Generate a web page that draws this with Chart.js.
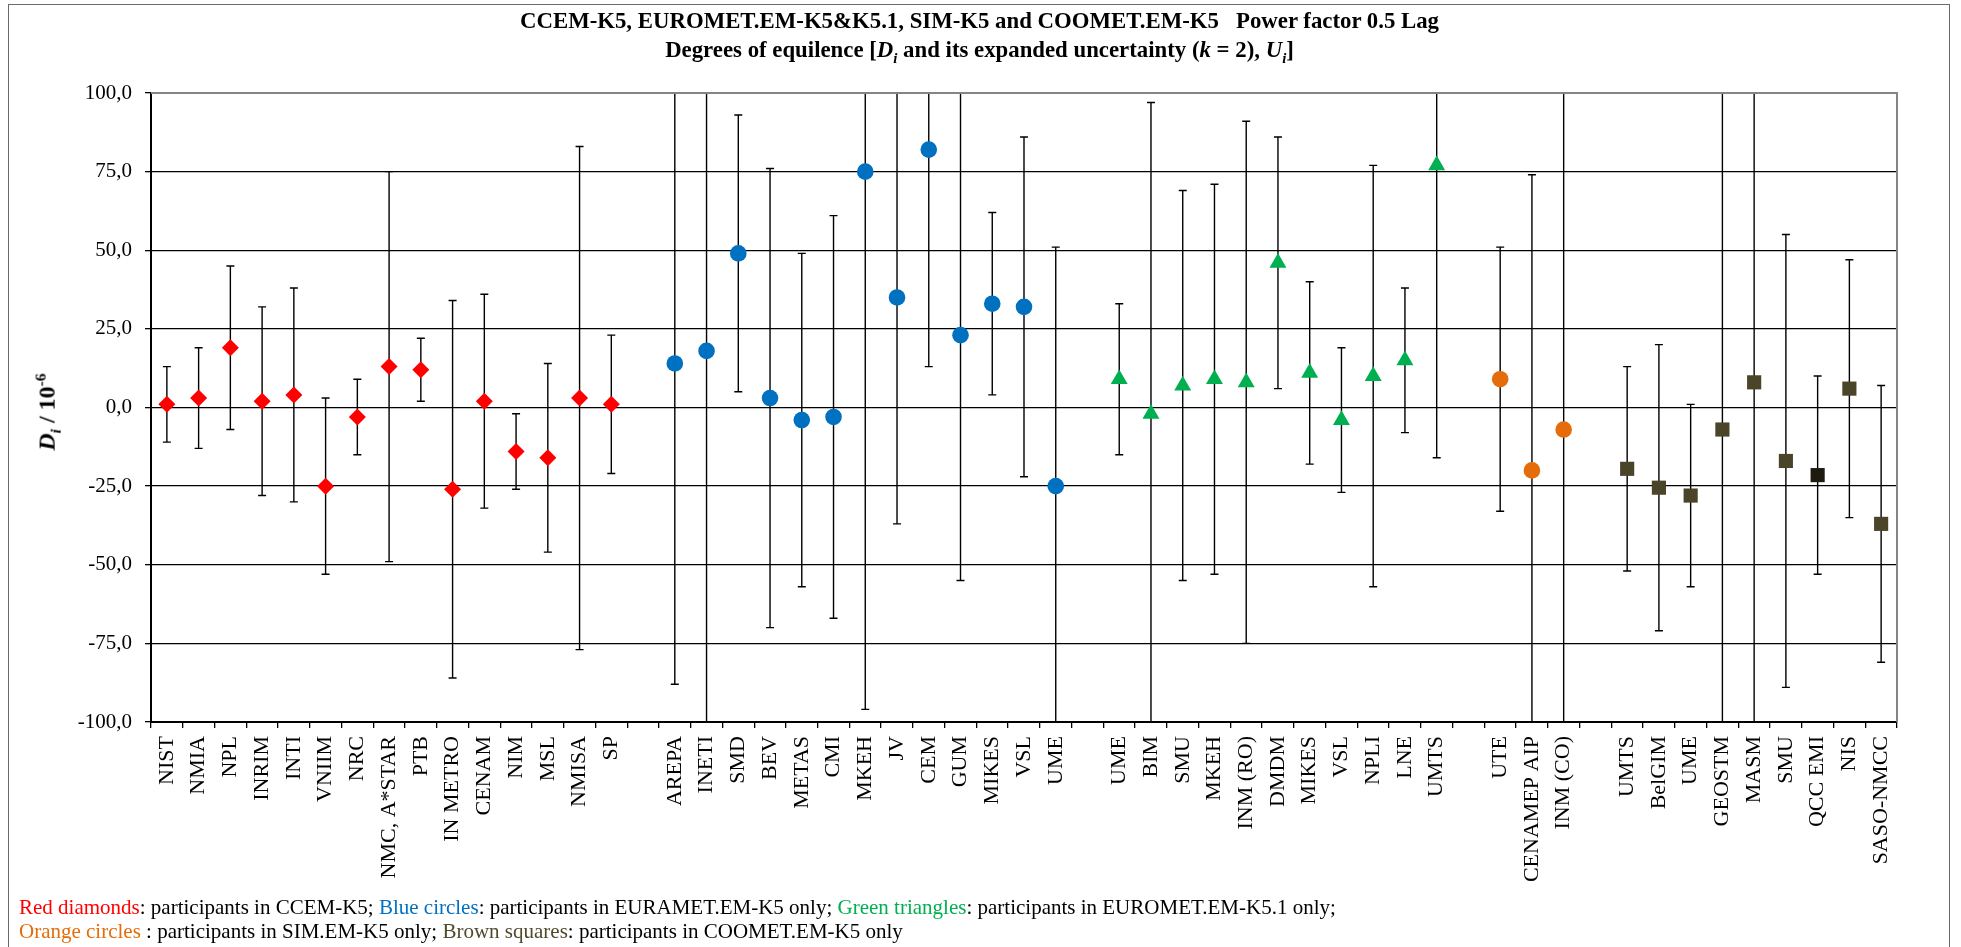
<!DOCTYPE html>
<html>
<head>
<meta charset="utf-8">
<script src="https://cdn.jsdelivr.net/npm/chart.js@4.4.1/dist/chart.umd.min.js"></script>
<style>
  html, body { margin: 0; padding: 0; background: #fff; overflow: hidden; }
  #page { position: relative; width: 1961px; height: 947px; font-family: 'Liberation Serif', 'Times New Roman', serif; }
  #frame { position: absolute; left: 8px; top: 4px; width: 1942px; height: 1000px; border: 1px solid #6a6a6a; box-sizing: border-box; }
  #chart { position: absolute; left: 0; top: 0; }
  #title { position: absolute; left: 8px; width: 1943px; top: 6px; text-align: center; font-weight: bold; font-size: 22.8px; line-height: 29px; color: #000; }
  #ytitle { position: absolute; left: 48px; top: 412px; transform: translate(-50%, -50%) rotate(-90deg); font-weight: bold; font-size: 24px; white-space: nowrap; }
  #note { position: absolute; left: 19px; top: 895px; font-size: 21px; line-height: 24px; white-space: nowrap; }
  sub, sup { font-size: 65%; }
</style>
</head>
<body>
<div id="page">
  <div id="frame"></div>
  <canvas id="chart" width="1961" height="947"></canvas>
  <div id="title">
    CCEM-K5, EUROMET.EM-K5&amp;K5.1, SIM-K5 and COOMET.EM-K5&nbsp;&nbsp; Power factor 0.5 Lag<br>
    Degrees of equilence [<i>D<sub>i</sub></i> and its expanded uncertainty (<i>k</i> = 2), <i>U<sub>i</sub></i>]
  </div>
  <div id="ytitle"><i>D<sub>i</sub></i> / 10<sup>-6</sup></div>
  <div id="note">
    <span style="color:#ff0000">Red diamonds</span>: participants in CCEM-K5; <span style="color:#0070c0">Blue circles</span>: participants in EURAMET.EM-K5 only; <span style="color:#00b050">Green triangles</span>: participants in EUROMET.EM-K5.1 only;<br>
    <span style="color:#e46c0a">Orange circles </span>: participants in SIM.EM-K5 only; <span style="color:#4f4a2c">Brown squares</span>: participants in COOMET.EM-K5 only
  </div>
</div>
<script>
// values (D_i and U_i, in 10^-6)
const ccemNames = ['NIST', 'NMIA', 'NPL', 'INRIM', 'INTI', 'VNIIM', 'NRC', 'NMC, A*STAR', 'PTB', 'IN METRO', 'CENAM', 'NIM', 'MSL', 'NMISA', 'SP'];
const ccemD = [1, 3, 19, 2, 4, -25, -3, 13, 12, -26, 2, -14, -16, 3, 1];
const ccemU = [12, 16, 26, 30, 34, 28, 12, 62, 10, 60, 34, 12, 30, 80, 22];

const euramNames = ['AREPA', 'INETI', 'SMD', 'BEV', 'METAS', 'CMI', 'MKEH', 'JV', 'CEM', 'GUM', 'MIKES', 'VSL', 'UME'];
const euramD = [14, 18, 49, 3, -4, -3, 75, 35, 82, 23, 33, 32, -25];
const euramU = [102, 125, 44, 73, 53, 64, 171, 72, 69, 78, 29, 54, 76];

const k51Names = ['UME', 'BIM', 'SMU', 'MKEH', 'INM (RO)', 'DMDM', 'MIKES', 'VSL', 'NPLI', 'LNE', 'UMTS'];
const k51D = [9, -2, 7, 9, 8, 46, 11, -4, 10, 15, 77];
const k51U = [24, 99, 62, 62, 83, 40, 29, 23, 67, 23, 93];

const simNames = ['UTE', 'CENAMEP AIP', 'INM (CO)'];
const simD = [9, -20, -7];
const simU = [42, 94, 115];

const coometNames = ['UMTS', 'BelGIM', 'UME', 'GEOSTM', 'MASM', 'SMU', 'QCC EMI', 'NIS', 'SASO-NMCC'];
const coometD = [-19.5, -25.5, -28, -7, 8, -17, -21.5, 6, -37];
const coometU = [32.5, 45.5, 29, 110, 115, 72, 31.5, 41, 44];

const yTicks = [-100, -75, -50, -25, 0, 25, 50, 75, 100];

const groups = [
    { names: ccemNames, d: ccemD, u: ccemU, color: '#ff0000', style: 'rectRot', radius: 8.5 },
    { names: euramNames, d: euramD, u: euramU, color: '#0070c0', style: 'circle', radius: 8.3 },
    { names: k51Names, d: k51D, u: k51U, color: '#00b050', style: 'triangle', radius: 9.8 },
    { names: simNames, d: simD, u: simU, color: '#e46c0a', style: 'circle', radius: 8.3 },
    { names: coometNames, d: coometD, u: coometU, color: '#4a4429', style: 'rect', radius: 10 }
];

// one empty category between the groups
const labels = [];
groups.forEach((g, k) => {
    if (k > 0) labels.push('');
    g.start = labels.length;
    labels.push(...g.names);
});

function spread(g, arr) {
    return labels.map((_, i) => (i >= g.start && i < g.start + g.names.length) ? arr[i - g.start] : null);
}

const datasets = groups.map(g => ({
    data: spread(g, g.d),
    errors: spread(g, g.u),
    showLine: false,
    pointStyle: g.style,
    pointRadius: g.radius,
    pointHoverRadius: g.radius,
    pointBorderWidth: 0,
    pointBackgroundColor: ctx => (g.names[ctx.dataIndex - g.start] === 'QCC EMI') ? '#1d1b10' : g.color,
    pointBorderColor: g.color
}));

const errorBars = {
    id: 'errorBars',
    beforeDatasetsDraw(chart) {
        const { ctx, chartArea: a } = chart;
        const y = chart.scales.y;
        ctx.save();
        ctx.beginPath();
        ctx.rect(a.left, a.top, a.right - a.left, a.bottom - a.top);
        ctx.clip();
        ctx.strokeStyle = '#000';
        ctx.lineWidth = 1.4;
        chart.data.datasets.forEach((ds, di) => {
            const meta = chart.getDatasetMeta(di);
            ds.data.forEach((v, i) => {
                if (v === null) return;
                const x = meta.data[i].x;
                const yTop = y.getPixelForValue(v + ds.errors[i]);
                const yBot = y.getPixelForValue(v - ds.errors[i]);
                ctx.beginPath();
                ctx.moveTo(x, yTop);
                ctx.lineTo(x, yBot);
                [yTop, yBot].forEach(py => {
                    if (py > a.top + 1 && py < a.bottom - 1) {
                        ctx.moveTo(x - 4, py);
                        ctx.lineTo(x + 4, py);
                    }
                });
                ctx.stroke();
            });
        });
        ctx.restore();
    }
};

const plotBorder = {
    id: 'plotBorder',
    afterDatasetsDraw(chart) {
        const { ctx, chartArea: a } = chart;
        ctx.save();
        ctx.strokeStyle = '#858585';
        ctx.lineWidth = 2;
        ctx.beginPath();
        ctx.moveTo(a.left, a.top);
        ctx.lineTo(a.right, a.top);
        ctx.lineTo(a.right, a.bottom);
        ctx.stroke();
        ctx.restore();
    }
};

const ctx = document.getElementById('chart').getContext('2d');
new Chart(ctx, {
    type: 'line',
    data: { labels: labels, datasets: datasets },
    plugins: [errorBars, plotBorder],
    options: {
        responsive: false,
        animation: false,
        events: [],
        layout: { padding: { left: 8, right: 64, top: 93, bottom: 65 } },
        plugins: {
            legend: { display: false },
            title: { display: false },
            tooltip: { enabled: false }
        },
        scales: {
            x: {
                type: 'category',
                offset: true,
                afterFit: s => { s.height = 160; },
                border: { color: '#000', width: 2 },
                grid: { offset: true, drawOnChartArea: false, drawTicks: true, tickLength: 6, color: '#000', lineWidth: 1.3 },
                ticks: {
                    autoSkip: false,
                    minRotation: 90,
                    maxRotation: 90,
                    padding: 8,
                    color: '#000',
                    font: { family: "'Liberation Serif', 'Times New Roman', serif", size: 22 }
                }
            },
            y: {
                min: -100,
                max: 100,
                afterFit: s => { s.width = 143; },
                afterBuildTicks: s => { s.ticks = yTicks.map(v => ({ value: v })); },
                border: { color: '#000', width: 2 },
                grid: {
                    color: c => (c.tick && c.tick.value === 100) ? '#858585' : '#000',
                    tickColor: '#000',
                    lineWidth: 1.3,
                    tickLength: 6
                },
                ticks: {
                    padding: 13,
                    color: '#000',
                    font: { family: "'Liberation Serif', 'Times New Roman', serif", size: 21 },
                    callback: v => v.toFixed(1).replace('.', ',')
                }
            }
        }
    }
});
</script>
</body>
</html>
